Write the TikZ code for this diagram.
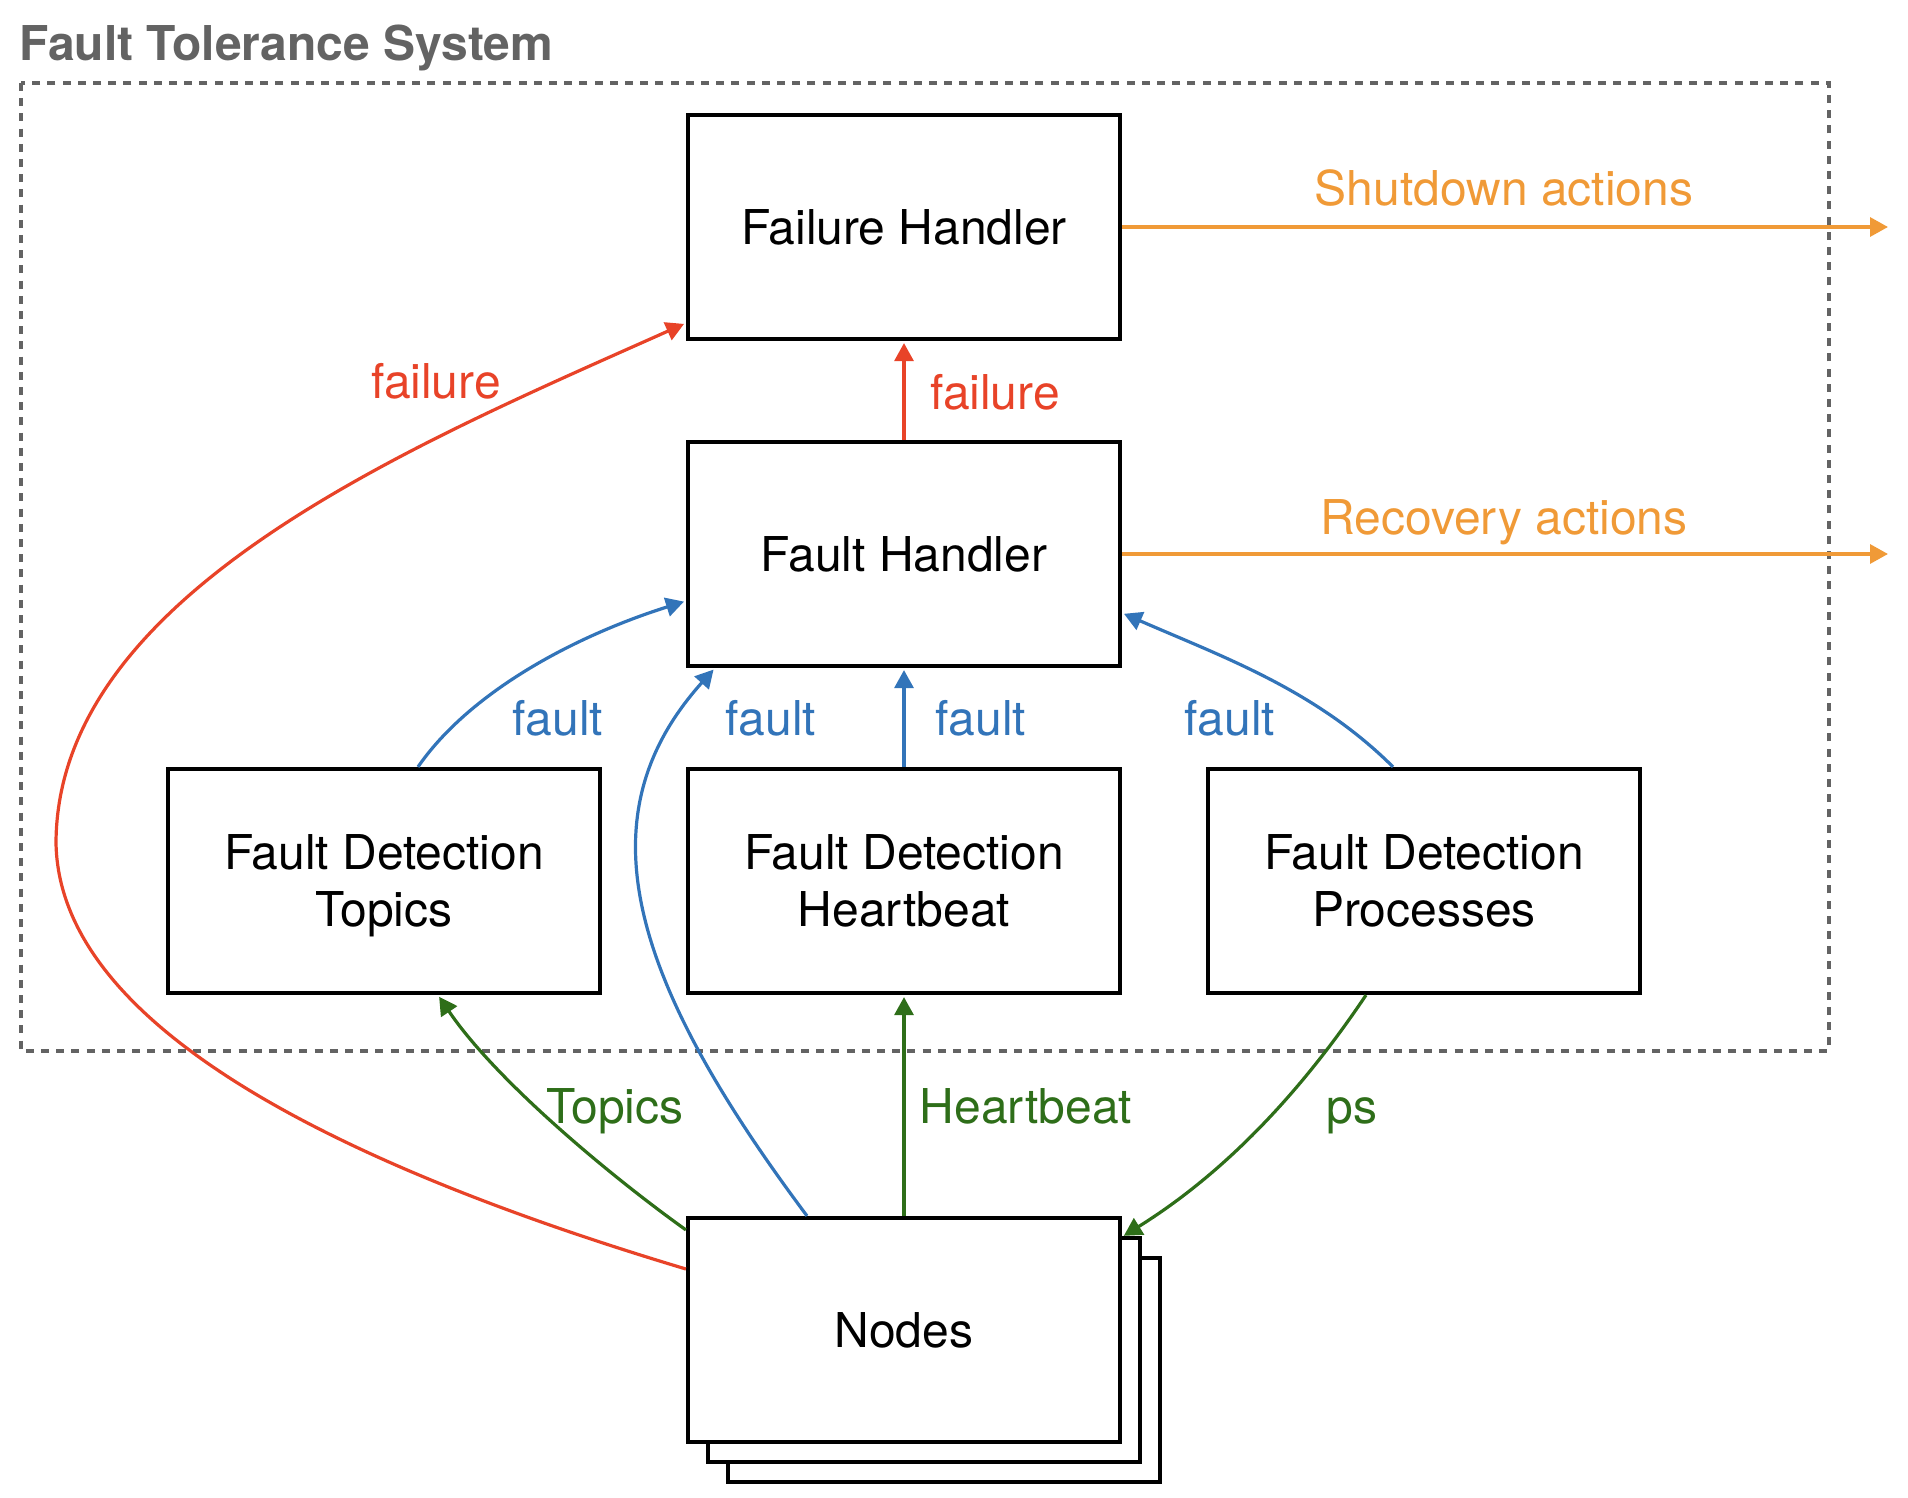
\documentclass[tikz,border=0pt]{standalone}
\usepackage{fontspec}
\setmainfont{TeX Gyre Heros}
\usetikzlibrary{arrows.meta}
\definecolor{cred}{RGB}{232,67,40}
\definecolor{corange}{RGB}{240,154,55}
\definecolor{cblue}{RGB}{50,116,185}
\definecolor{cgreen}{RGB}{46,110,25}
\definecolor{cgray}{RGB}{99,99,99}
\begin{document}
\begin{tikzpicture}[x=0.5pt,y=-0.5pt,
  box/.style={draw=black,line width=2.1pt,fill=white,minimum width=216pt,minimum height=112pt,inner sep=0pt,align=center,text depth=0pt,font=\fontsize{24}{28.5}\selectfont},
  conn/.style={line width=1.6pt,shorten >=1pt,-{Triangle[length=9pt,width=9.5pt]}},
  lbl/.style={font=\fontsize{24}{28.5}\selectfont,anchor=base,inner sep=0pt},
  frame/.style={draw=cgray,line width=1.7pt,dash pattern=on 4pt off 3.6pt}
]
\useasboundingbox (0,0) rectangle (1908,1498);

% title and frame
\node[anchor=base west,inner sep=0pt,text=cgray,font=\bfseries\fontsize{24}{28.5}\selectfont] (title) at (19,61) {Fault Tolerance System};
\draw[frame] (21,83) rectangle (1829,1051);

% boxes
\node[box] (fail) at (904,227) {Failure Handler};
\node[box] (fault) at (904,554) {Fault Handler};
\node[box] (fdt) at (384,881) {Fault Detection\\Topics};
\node[box] (fdh) at (904,881) {Fault Detection\\Heartbeat};
\node[box] (fdp) at (1424,881) {Fault Detection\\Processes};
\node[box] (nodes3) at (944,1370) {};
\node[box] (nodes2) at (924,1350) {};
\node[box] (nodes) at (904,1330) {Nodes};

% helper coordinates
\coordinate (redmid) at (56,842);
\coordinate (shutend) at (1890,227);
\coordinate (recend) at (1890,554);

% orange outputs
\draw[conn,corange] (fail.east) -- (shutend);
\draw[conn,corange] (fault.east) -- (recend);
\node[lbl,text=corange] (lshut) at (1504,206) {Shutdown actions};
\node[lbl,text=corange] (lrec) at (1504,534) {Recovery actions};

% red failures
\draw[conn,cred] (fault.north) -- (fail.south);
\draw[conn,cred] ([yshift=30.5pt]nodes.west) .. controls (326,1161) and (58,1022) .. (redmid)
  .. controls (58,592) and (413,445) .. ([yshift=9pt]fail.south west);
\node[lbl,text=cred] (lfail1) at (436,399) {failure};
\node[lbl,text=cred] (lfail2) at (995,409) {failure};

% blue faults
\draw[conn,cblue] ([xshift=17pt]fdt.north) .. controls (469,693) and (572,637) .. ([yshift=-23.5pt]fault.west);
\draw[conn,cblue] ([xshift=-48.5pt]nodes.north) .. controls (627,975) and (583,815) .. ([xshift=14.5pt]fault.south west);
\draw[conn,cblue] (fdh.north) -- (fault.south);
\draw[conn,cblue] ([xshift=-15.5pt]fdp.north) .. controls (1316,690) and (1223,657) .. ([yshift=-29.5pt]fault.east);
\node[lbl,text=cblue] (lf1) at (558,735) {fault};
\node[lbl,text=cblue] (lf2) at (771,735) {fault};
\node[lbl,text=cblue] (lf3) at (981,735) {fault};
\node[lbl,text=cblue] (lf4) at (1230,735) {fault};

% green inputs
\draw[conn,cgreen] ([yshift=-7pt]nodes.north west) .. controls (605,1172) and (494,1078) .. ([xshift=27pt]fdt.south);
\draw[conn,cgreen] (nodes.north) -- (fdh.south);
\draw[conn,cgreen] ([xshift=-29pt]fdp.south) .. controls (1299,1095) and (1223,1174) .. ([yshift=-10.5pt]nodes.north east);
\node[lbl,text=cgreen] (ltop) at (615,1123) {Topics};
\node[lbl,text=cgreen] (lhb) at (1026,1123) {Heartbeat};
\node[lbl,text=cgreen] (lps) at (1352,1123) {ps};
\end{tikzpicture}
\end{document}
